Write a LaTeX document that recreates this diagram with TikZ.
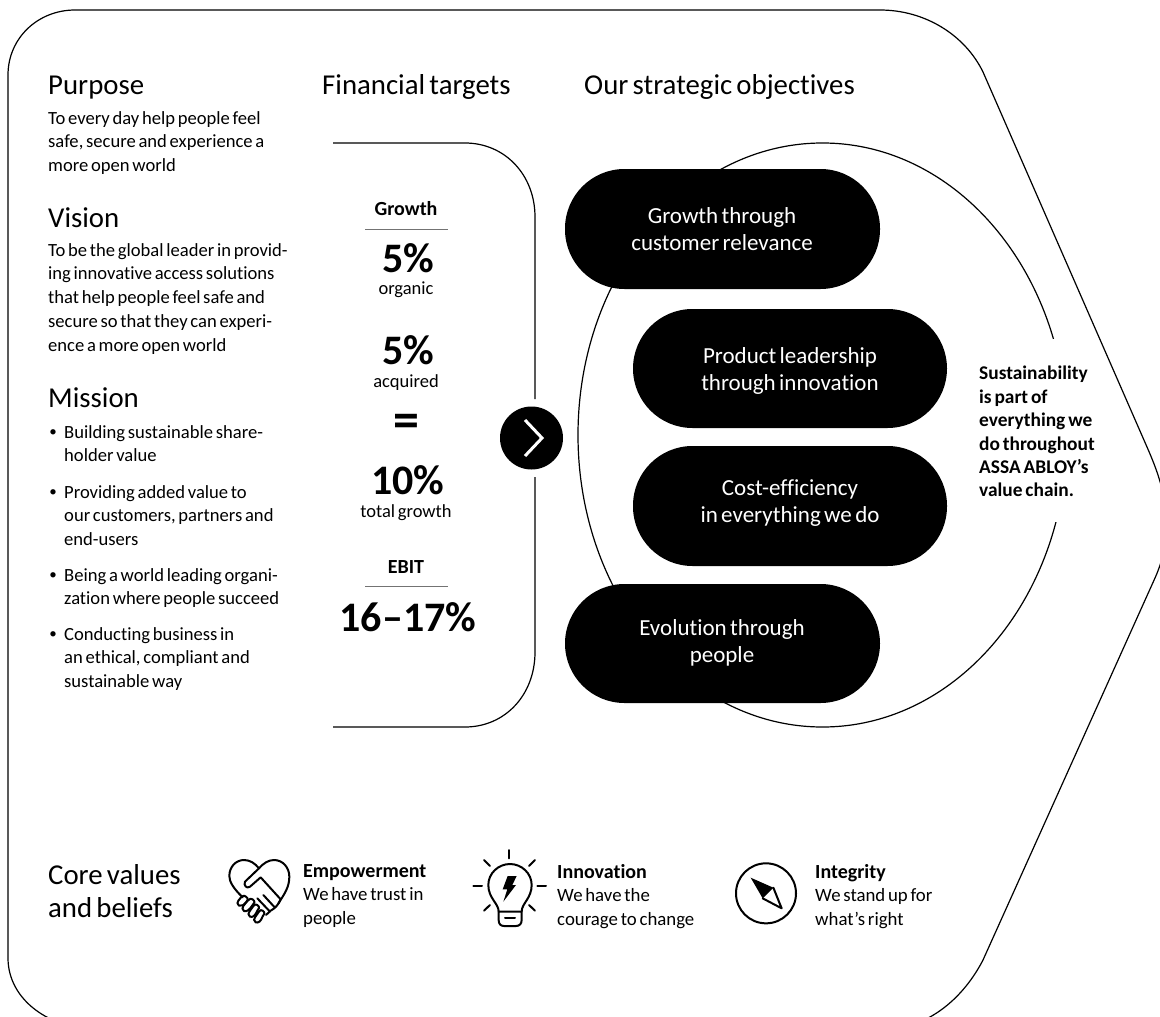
\documentclass[tikz,border=0pt]{standalone}
\usepackage{fontspec}
\setmainfont{Carlito}[Ligatures=CommonOff,WordSpace=0.65]
\usetikzlibrary{shapes.misc}
\newcommand{\fs}[2]{\fontsize{#1}{#2}\selectfont}
\tikzset{
  x=1pt,y=-1pt,
  outline/.style={draw=black,line width=1.2pt},
  head/.style={anchor=base west,inner sep=0pt,font=\fs{28.8}{33}},
  body/.style={anchor=north west,inner sep=0pt,align=left,font=\fs{18.6}{23.8}},
  bullet/.style={inner sep=0pt,anchor=center,font=\fs{15}{15}},
  pill/.style={fill=black,rounded corners=59.5pt},
  pilltext/.style={text=white,align=center,inner sep=0pt,font=\fs{23}{26.5}},
  big/.style={inner sep=0pt,anchor=center,font=\fs{42}{42}\bfseries},
  small/.style={inner sep=0pt,anchor=center,font=\fs{18.5}{20}},
  subhead/.style={inner sep=0pt,anchor=center,font=\fs{20}{20}\bfseries},
  rulegray/.style={draw=black!55,line width=0.8pt},
  valuetext/.style={anchor=north west,inner sep=0pt,align=left,font=\fs{18.8}{23.5}},
  icon/.style={draw=black,line width=2pt,line cap=round,line join=round},
  zoomscale/.style={x=0.33333pt,y=-0.33333pt},
}
\begin{document}
\begin{tikzpicture}
\useasboundingbox (0,0) rectangle (1160,1017);
% outer shape
\begin{scope}
\clip (0,0) rectangle (1160,1017);
\draw[outline] (75,10) -- (880,10) .. controls (925,10) and (965,35) .. (983,72)
  -- (1147,447) .. controls (1158,472) and (1166,495) .. (1166,522)
  .. controls (1166,545) and (1163,560) .. (1155,578)
  -- (983,960) .. controls (965,995) and (930,1030) .. (880,1030)
  -- (101,1030) .. controls (50,1030) and (8,1000) .. (8,958)
  -- (8,75) .. controls (8,38) and (38,10) .. (75,10) -- cycle;
\end{scope}
% financial bracket
\draw[outline] (333,143) -- (465,143) .. controls (505,143) and (535,175) .. (535,217) -- (535,399);
\draw[outline] (535,477) -- (535,652) .. controls (535,695) and (505,727) .. (465,727) -- (333,727);
\node[circle,fill=black,minimum size=63pt,inner sep=0pt] (next) at (531.5,438) {};
\draw[draw=white,line width=3pt,line join=miter] (525,420) -- (542,438) -- (525,456);
% ellipse
\draw[outline] (822.5,435) ellipse [x radius=244.5,y radius=292];
% pills
\node[pill,minimum width=315pt,minimum height=120pt] (p1) at (722.5,229) {};
\node[pill,minimum width=314pt,minimum height=119pt] (p2) at (790,368.5) {};
\node[pill,minimum width=314pt,minimum height=120pt] (p3) at (790,506) {};
\node[pill,minimum width=315pt,minimum height=119pt] (p4) at (722.5,643.5) {};
\node[pilltext] (t1) at (722,229) {Growth through\\customer relevance};
\node[pilltext] (t2) at (790,371) {Product leadership\\through innovation};
\node[pilltext] (t3) at (790,503) {Cost-efficiency\\in everything we do};
\node[pilltext] (t4) at (722,643) {Evolution through\\people};
% sustainability
\node[fill=white,anchor=north west,inner sep=0pt,outer sep=0pt,minimum height=183pt,minimum width=95pt] (sbg) at (975,339) {};
\node[body,font=\fs{19.4}{23.4}\bfseries] (sus) at (979,366) {Sustainability\\is part of\\everything we\\do throughout\\ASSA ABLOY’s\\value chain.};
% headers
\node[head] (h1) at (48,94) {Purpose};
\node[head] (h2) at (322,94) {Financial targets};
\node[head] (h3) at (584,94) {Our strategic objectives};
\node[head] (h4) at (48,227) {Vision};
\node[head] (h5) at (48,407) {Mission};
% left text
\node[body] (purp) at (48,111) {To every day help people feel\\safe, secure and experience a\\more open world};
\node[body] (vis) at (48,243) {To be the global leader in provid-\\ing innovative access solutions\\that help people feel safe and\\secure so that they can experi-\\ence a more open world};
\node[body] (m1) at (64,425) {Building sustainable share-\\holder value};
\node[body] (m2) at (64,485) {Providing added value to\\our customers, partners and\\end-users};
\node[body] (m3) at (64,568) {Being a world leading organi-\\zation where people succeed};
\node[body] (m4) at (64,627) {Conducting business in\\an ethical, compliant and\\sustainable way};
\node[bullet] (b1) at (53,433) {•};
\node[bullet] (b2) at (53,493) {•};
\node[bullet] (b3) at (53,576) {•};
\node[bullet] (b4) at (53,635) {•};
% financial column
\node[subhead] (g) at (406,209) {Growth};
\coordinate (r1a) at (365,229); \coordinate (r1b) at (448,229);
\draw[rulegray] (r1a) -- (r1b);
\node[big] (f1) at (408,258) {5\%};
\node[small] (f1s) at (406,290) {organic};
\node[big] (f2) at (408,350) {5\%};
\node[small] (f2s) at (406,383) {acquired};
\node[big,font=\fs{52}{52}\bfseries] (eq) at (406,426) {=};
\node[big] (f3) at (408,480) {10\%};
\node[small] (f3s) at (406,513) {total growth};
\node[subhead] (e) at (406,567) {EBIT};
\coordinate (r2a) at (365,586); \coordinate (r2b) at (448,586);
\draw[rulegray] (r2a) -- (r2b);
\node[big] (f4) at (408,617) {16–17\%};
% core values
\node[anchor=north west,inner sep=0pt,align=left,font=\fs{28.8}{33}] (core) at (48,864) {Core values\\and beliefs};
\node[valuetext] (v1) at (303,864) {\textbf{\fs{20}{23.5}Empowerment}\\We have trust in\\people};
\node[valuetext] (v2) at (557,864) {\textbf{\fs{20}{23.5}Innovation}\\We have the\\courage to change};
\node[valuetext] (v3) at (815,864) {\textbf{\fs{20}{23.5}Integrity}\\We stand up for\\what’s right};
% handshake icon
\begin{scope}[xshift=210pt,yshift=-840pt,zoomscale,icon]
\draw (98,172) .. controls (70,145) and (58,125) .. (58,108) .. controls (58,80) and (78,60) .. (102,60) .. controls (120,60) and (135,70) .. (147,85) .. controls (160,70) and (175,60) .. (192,60) .. controls (218,60) and (238,82) .. (238,110) .. controls (238,140) and (225,160) .. (205,190);
\draw (147,85) -- (105,125) .. controls (100,135) and (110,148) .. (120,140) -- (152,112) -- (212,178) .. controls (205,195) and (195,205) .. (182,212) -- (168,225);
\draw (142,175) -- (180,215);
\draw (160,165) -- (195,203);
\foreach \a/\b/\c/\d in {85/182/108/170,100/198/128/178,118/215/142/195,135/232/158/212}
  \draw (\a,\b) .. controls (\a+8,\b-10) and (\c-8,\d-8) .. (\c,\d) .. controls (\c+8,\d+6) and (\c+6,\d+12) .. (\c,\d+17) .. controls (\a+18,\b+12) and (\a+10,\b+18) .. (\a+2,\b+15) .. controls (\a-4,\b+10) and (\a-4,\b+5) .. (\a,\b);
\end{scope}
% bulb icon
\begin{scope}[xshift=210pt,yshift=-840pt,zoomscale,icon]
\draw (866,215) .. controls (866,190) and (835,175) .. (835,135) .. controls (835,100) and (865,72) .. (900,72) .. controls (935,72) and (965,100) .. (965,135) .. controls (965,175) and (935,190) .. (935,215);
\draw (866,215) -- (935,215) -- (935,240) .. controls (935,252) and (928,258) .. (918,258) -- (882,258) .. controls (872,258) and (866,252) .. (866,240) -- cycle;
\draw (885,235) -- (915,235);
\draw (898,30) -- (898,55);
\draw (790,137) -- (816,137);
\draw (982,137) -- (1008,137);
\draw (822,60) -- (840,78);
\draw (975,60) -- (957,78);
\draw (822,212) -- (840,195);
\draw (975,212) -- (957,195);
\fill (893,108) -- (920,108) -- (907,135) -- (918,135) -- (880,185) -- (892,148) -- (878,148) -- cycle;
\end{scope}
% compass icon
\begin{scope}[xshift=720pt,yshift=-840pt,zoomscale,icon]
\draw (138,160) circle [radius=30pt];
\fill (92,113) -- (160,143) -- (128,175) -- cycle;
\draw (160,143) -- (185,205) -- (128,175);
\end{scope}
\end{tikzpicture}
\end{document}
